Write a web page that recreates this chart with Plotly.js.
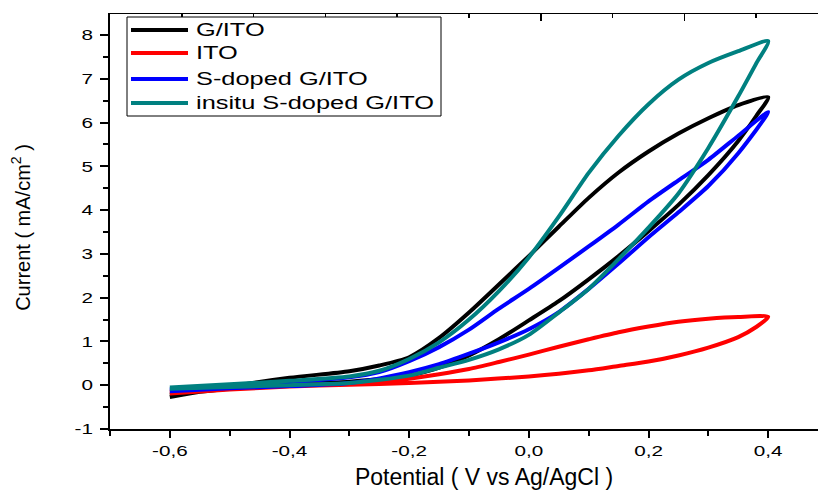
<!DOCTYPE html>
<html>
<head>
<meta charset="utf-8">
<script src="https://cdn.plot.ly/plotly-3.0.1.min.js"></script>
<style>
html,body{margin:0;padding:0;overflow:hidden;background:#fff;}
#chart{width:840px;height:490px;}
</style>
</head>
<body>
<div id="chart"></div>
<script>
// ---- data ----
const seriesNames = ['G/ITO', 'ITO', 'S-doped G/ITO', 'insitu S-doped G/ITO'];
const seriesColors = ['#000000', '#ff0000', '#0000ff', '#008080'];

// G/ITO
const gitoLowerV = [-0.6,-0.5,-0.4,-0.3,-0.2,-0.15,-0.1,-0.05,0,0.05,0.1,0.15,0.2,0.25,0.3,0.35,0.38,0.4];
const gitoLowerI = [-0.22,-0.08,0.02,0.08,0.22,0.4,0.68,1.05,1.48,1.92,2.42,2.95,3.52,4.12,4.8,5.58,6.15,6.58];
const gitoUpperV = [-0.6,-0.5,-0.4,-0.3,-0.25,-0.2,-0.15,-0.1,-0.05,0,0.05,0.1,0.15,0.2,0.25,0.3,0.35,0.4];
const gitoUpperI = [-0.27,-0.03,0.17,0.32,0.45,0.64,1.08,1.66,2.3,2.95,3.62,4.28,4.86,5.34,5.75,6.1,6.4,6.58];

// ITO
const itoLowerV = [-0.6,-0.5,-0.4,-0.3,-0.2,-0.1,0,0.05,0.1,0.15,0.2,0.25,0.3,0.35,0.38,0.4];
const itoLowerI = [-0.19,-0.1,-0.03,0.01,0.05,0.11,0.2,0.26,0.34,0.44,0.54,0.68,0.86,1.1,1.33,1.56];
const itoUpperV = [-0.6,-0.5,-0.4,-0.3,-0.25,-0.2,-0.15,-0.1,-0.05,0,0.05,0.1,0.15,0.2,0.25,0.3,0.35,0.4];
const itoUpperI = [-0.15,-0.06,0.0,0.03,0.07,0.15,0.25,0.37,0.53,0.7,0.88,1.05,1.21,1.34,1.45,1.52,1.56,1.56];

// S-doped G/ITO
const sdLowerV = [-0.6,-0.5,-0.4,-0.3,-0.2,-0.15,-0.1,-0.05,0,0.05,0.1,0.15,0.2,0.25,0.3,0.35,0.4];
const sdLowerI = [-0.14,-0.07,-0.02,0.05,0.3,0.48,0.72,0.98,1.28,1.67,2.2,2.78,3.38,3.95,4.55,5.3,6.24];
const sdUpperV = [-0.6,-0.5,-0.4,-0.3,-0.25,-0.2,-0.15,-0.1,-0.05,0,0.05,0.1,0.15,0.2,0.25,0.3,0.35,0.4];
const sdUpperI = [-0.1,0.0,0.07,0.18,0.3,0.55,0.87,1.27,1.75,2.2,2.68,3.17,3.67,4.2,4.68,5.15,5.7,6.24];

// insitu S-doped G/ITO
const isLowerV = [-0.6,-0.5,-0.4,-0.3,-0.2,-0.15,-0.1,-0.05,0,0.05,0.1,0.15,0.2,0.25,0.3,0.35,0.38,0.4];
const isLowerI = [-0.08,-0.04,0.0,0.05,0.22,0.4,0.58,0.82,1.15,1.66,2.2,2.88,3.6,4.38,5.42,6.6,7.35,7.86];
const isUpperV = [-0.6,-0.5,-0.4,-0.3,-0.25,-0.2,-0.15,-0.1,-0.05,0,0.05,0.1,0.15,0.2,0.25,0.3,0.35,0.4];
const isUpperI = [-0.05,0.02,0.1,0.2,0.33,0.6,0.98,1.5,2.15,2.92,3.85,4.85,5.7,6.42,6.98,7.36,7.63,7.86];

// axis tick labels and titles
const xTickVals = [-0.6,-0.4,-0.2,0,0.2,0.4];
const xTickText = ['-0,6','-0,4','-0,2','0,0','0,2','0,4'];
const yTickVals = [-1,0,1,2,3,4,5,6,7,8];
const yTickText = ['-1','0','1','2','3','4','5','6','7','8'];
const xTitle = 'Potential ( V vs Ag/AgCl )';
const yTitle = 'Current ( mA/cm<sup>2</sup> )';

// ---- build loops: forward (lower) branch then back along the upper branch ----
function loop(lv, li, uv, ui) {
  const x = lv.slice(), y = li.slice();
  for (let k = uv.length - 2; k >= 0; k--) { x.push(uv[k]); y.push(ui[k]); }
  return {x, y};
}
const loops = [
  loop(gitoLowerV, gitoLowerI, gitoUpperV, gitoUpperI),
  loop(itoLowerV, itoLowerI, itoUpperV, itoUpperI),
  loop(sdLowerV, sdLowerI, sdUpperV, sdUpperI),
  loop(isLowerV, isLowerI, isUpperV, isUpperI)
];

const FONT = 'Arial, "Liberation Sans", sans-serif';

const traces = loops.map((d, i) => ({
  type: 'scatter', mode: 'lines', name: seriesNames[i],
  x: d.x, y: d.y,
  line: {color: seriesColors[i], width: 4, shape: 'spline', smoothing: 0.7},
  showlegend: false
}));
// empty trace that carries the decorative top axis
traces.push({type:'scatter', x:[], y:[], xaxis:'x2', yaxis:'y', showlegend:false, hoverinfo:'skip'});

// custom legend (box + sample lines + labels in paper coords)
const W = 840, H = 490, ML = 110, MR = 12, MT = 14, MB = 61;
const PW = W - ML - MR, PH = H - MT - MB;
const px = p => (p - ML) / PW;
const py = p => 1 - (p - MT) / PH;
const shapes = [{
  type:'rect', xref:'paper', yref:'paper',
  x0: px(127), x1: px(441), y0: py(116), y1: py(17),
  line:{color:'#000', width:1}, fillcolor:'#fff', layer:'above'
}];
const annotations = [];
const rowY = [30, 53, 79, 103];
seriesNames.forEach((n, i) => {
  shapes.push({type:'line', xref:'paper', yref:'paper', x0: px(131), x1: px(188), y0: py(rowY[i]), y1: py(rowY[i]),
    line:{color: seriesColors[i], width: 4}, layer:'above'});
  annotations.push({xref:'paper', yref:'paper', x: px(195), y: py(rowY[i]), xanchor:'left', yanchor:'middle',
    text: n, showarrow:false, borderpad: 0, font:{family: FONT, size: 18, color:'#000'}});
});

const layout = {
  width: W, height: H,
  margin: {l: ML, r: MR, t: MT, b: MB, pad: 0},
  paper_bgcolor: '#fff', plot_bgcolor: '#fff',
  font: {family: FONT, size: 15, color: '#000'},
  showlegend: false,
  xaxis: {
    range: [-0.7, 0.5], tickvals: xTickVals, ticktext: xTickText,
    showgrid: false, zeroline: false, showline: true, linecolor: '#000', linewidth: 2,
    ticks: 'outside', ticklen: 7, tickwidth: 2, tickcolor: '#000',
    minor: {dtick: 0.1, tick0: 0, ticks: 'outside', ticklen: 5, tickwidth: 2, tickcolor: '#000', showgrid: false},
    tickfont: {family: FONT, size: 15},
    title: {text: xTitle, font: {family: FONT, size: 23}, standoff: 13}
  },
  xaxis2: {
    overlaying: 'x', side: 'top', range: [0, 10], showgrid: false, zeroline: false,
    showline: true, linecolor: '#000', linewidth: 1.5, showticklabels: false,
    tick0: 0, dtick: 2, ticks: 'inside', ticklen: 7, tickwidth: 1.5, tickcolor: '#000',
    minor: {dtick: 1, ticks: 'inside', ticklen: 4, tickwidth: 1.5, tickcolor: '#000', showgrid: false}
  },
  yaxis: {
    range: [-1, 8.48], tickvals: yTickVals, ticktext: yTickText,
    showgrid: false, zeroline: false, showline: true, linecolor: '#000', linewidth: 2,
    ticks: 'outside', ticklen: 8, tickwidth: 2, tickcolor: '#000', ticklabelstandoff: 4,
    minor: {dtick: 0.5, tick0: 0, ticks: 'outside', ticklen: 5, tickwidth: 2, tickcolor: '#000', showgrid: false},
    tickfont: {family: FONT, size: 15},
    title: {text: yTitle, font: {family: FONT, size: 20}, standoff: 44}
  },
  shapes: shapes,
  annotations: annotations
};

// wrap an svg text in a group carrying an extra transform
function wrap(t) {
  const g = document.createElementNS('http://www.w3.org/2000/svg', 'g');
  t.parentNode.insertBefore(g, t);
  g.appendChild(t);
  return g;
}
// the reference's tick and legend lettering is drawn wide; widen it horizontally
function widen(selector, factor, anchor) {
  document.querySelectorAll(selector).forEach(t => {
    const g = wrap(t);
    const b = g.getBBox();
    const cx = anchor === 'left' ? b.x : anchor === 'right' ? b.x + b.width : b.x + b.width / 2;
    g.setAttribute('transform', 'translate(' + cx + ',0) scale(' + factor + ',1) translate(' + (-cx) + ',0)');
  });
}
function shift(selector, dx, dy) {
  document.querySelectorAll(selector).forEach(t => {
    wrap(t).setAttribute('transform', 'translate(' + dx + ',' + dy + ')');
  });
}

Plotly.newPlot('chart', traces, layout, {displayModeBar: false, staticPlot: true}).then(() => {
  widen('.xtick text', 1.38, 'center');
  widen('.ytick text', 1.38, 'right');
  widen('.annotation-text', 1.41, 'left');
  shift('.g-xtitle text', 15, 0);
  shift('.g-ytitle text', 0, 6);
});
</script>
</body>
</html>
